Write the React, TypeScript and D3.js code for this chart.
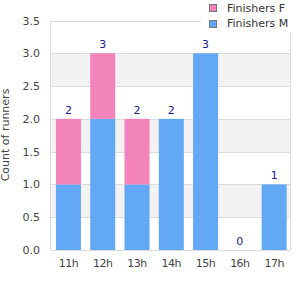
import React from "react";
import * as d3 from "d3";

const categories = ["11h", "12h", "13h", "14h", "15h", "16h", "17h"];
const finishersM = [1, 2, 1, 2, 3, 0, 1];
const finishersF = [1, 1, 1, 0, 0, 0, 0];
const yTicks = [0, 0.5, 1.0, 1.5, 2.0, 2.5, 3.0, 3.5];
const seriesNames = ["Finishers F", "Finishers M"];

const W = 300, H = 300;
const plot = { left: 50.5, right: 290.5, top: 20.5, bottom: 250 };
const pink = "#f383bb";
const blue = "#62a8f5";
const font = "DejaVu Sans, Verdana, sans-serif";

export default function App() {
  const x = d3.scaleBand<string>().domain(categories).range([plot.left + 0.8, plot.right + 0.8]).paddingInner(0.27).paddingOuter(0.135);
  const y = d3.scaleLinear().domain([0, 3.5]).range([plot.bottom, plot.top]);
  const stacked = d3.stack<any>().keys(["m", "f"])(categories.map((c, i) => ({ c, m: finishersM[i], f: finishersF[i] })));
  const bands = d3.range(0, yTicks.length - 1).filter((i) => i % 2 === 1);
  return (
    <svg width={W} height={H} style={{ position: "absolute", left: 0, top: 0 }}>
      <rect x={0} y={0} width={W} height={H} fill="#fff" />
      {bands.map((i) => (
        <rect key={i} x={plot.left} y={y(yTicks[i + 1])} width={plot.right - plot.left} height={y(yTicks[i]) - y(yTicks[i + 1])} fill="#f2f2f2" />
      ))}
      {yTicks.map((t) => (
        <line key={t} x1={plot.left} x2={plot.right} y1={Math.round(y(t)) + 0.5} y2={Math.round(y(t)) + 0.5} stroke="#dcdcdc" strokeWidth={1} />
      ))}
      <line x1={plot.left} x2={plot.left} y1={plot.top} y2={plot.bottom} stroke="#dcdcdc" />
      <line x1={plot.right} x2={plot.right} y1={plot.top} y2={plot.bottom} stroke="#dcdcdc" />
      {stacked.map((s, si) =>
        s.map((d, i) => (
          <rect key={si + "-" + i} x={x(categories[i])} width={x.bandwidth()} y={y(d[1])} height={y(d[0]) - y(d[1])} fill={si === 0 ? blue : pink} />
        ))
      )}
      {categories.map((c, i) => (
        <text key={c} x={x(c)! + x.bandwidth() / 2} y={y(finishersM[i] + finishersF[i]) - 5} textAnchor="middle" fontFamily={font} fontSize={11} fill="#1a1a8c">
          {finishersM[i] + finishersF[i]}
        </text>
      ))}
      {yTicks.map((t) => (
        <text key={t} x={40} y={y(t) + 4} textAnchor="end" fontFamily={font} fontSize={11} fill="#444">
          {t.toFixed(1)}
        </text>
      ))}
      {categories.map((c) => (
        <text key={c} x={x(c)! + x.bandwidth() / 2} y={267} textAnchor="middle" fontFamily={font} fontSize={11} fill="#444" letterSpacing={-0.5}>
          {c}
        </text>
      ))}
      <text transform={`translate(9,135) rotate(-90)`} textAnchor="middle" fontFamily={font} fontSize={11} fill="#444">
        Count of runners
      </text>
      <rect x={201} y={0} width={99} height={33} fill="#fff" />
      {seriesNames.map((n, i) => (
        <g key={n}>
          <rect x={209.5} y={4.5 + i * 16} width={7} height={7} fill={i === 0 ? pink : blue} stroke="#777" />
          <text x={227} y={11.5 + i * 15.5} fontFamily={font} fontSize={11} fill="#333">
            {n}
          </text>
        </g>
      ))}
    </svg>
  );
}
